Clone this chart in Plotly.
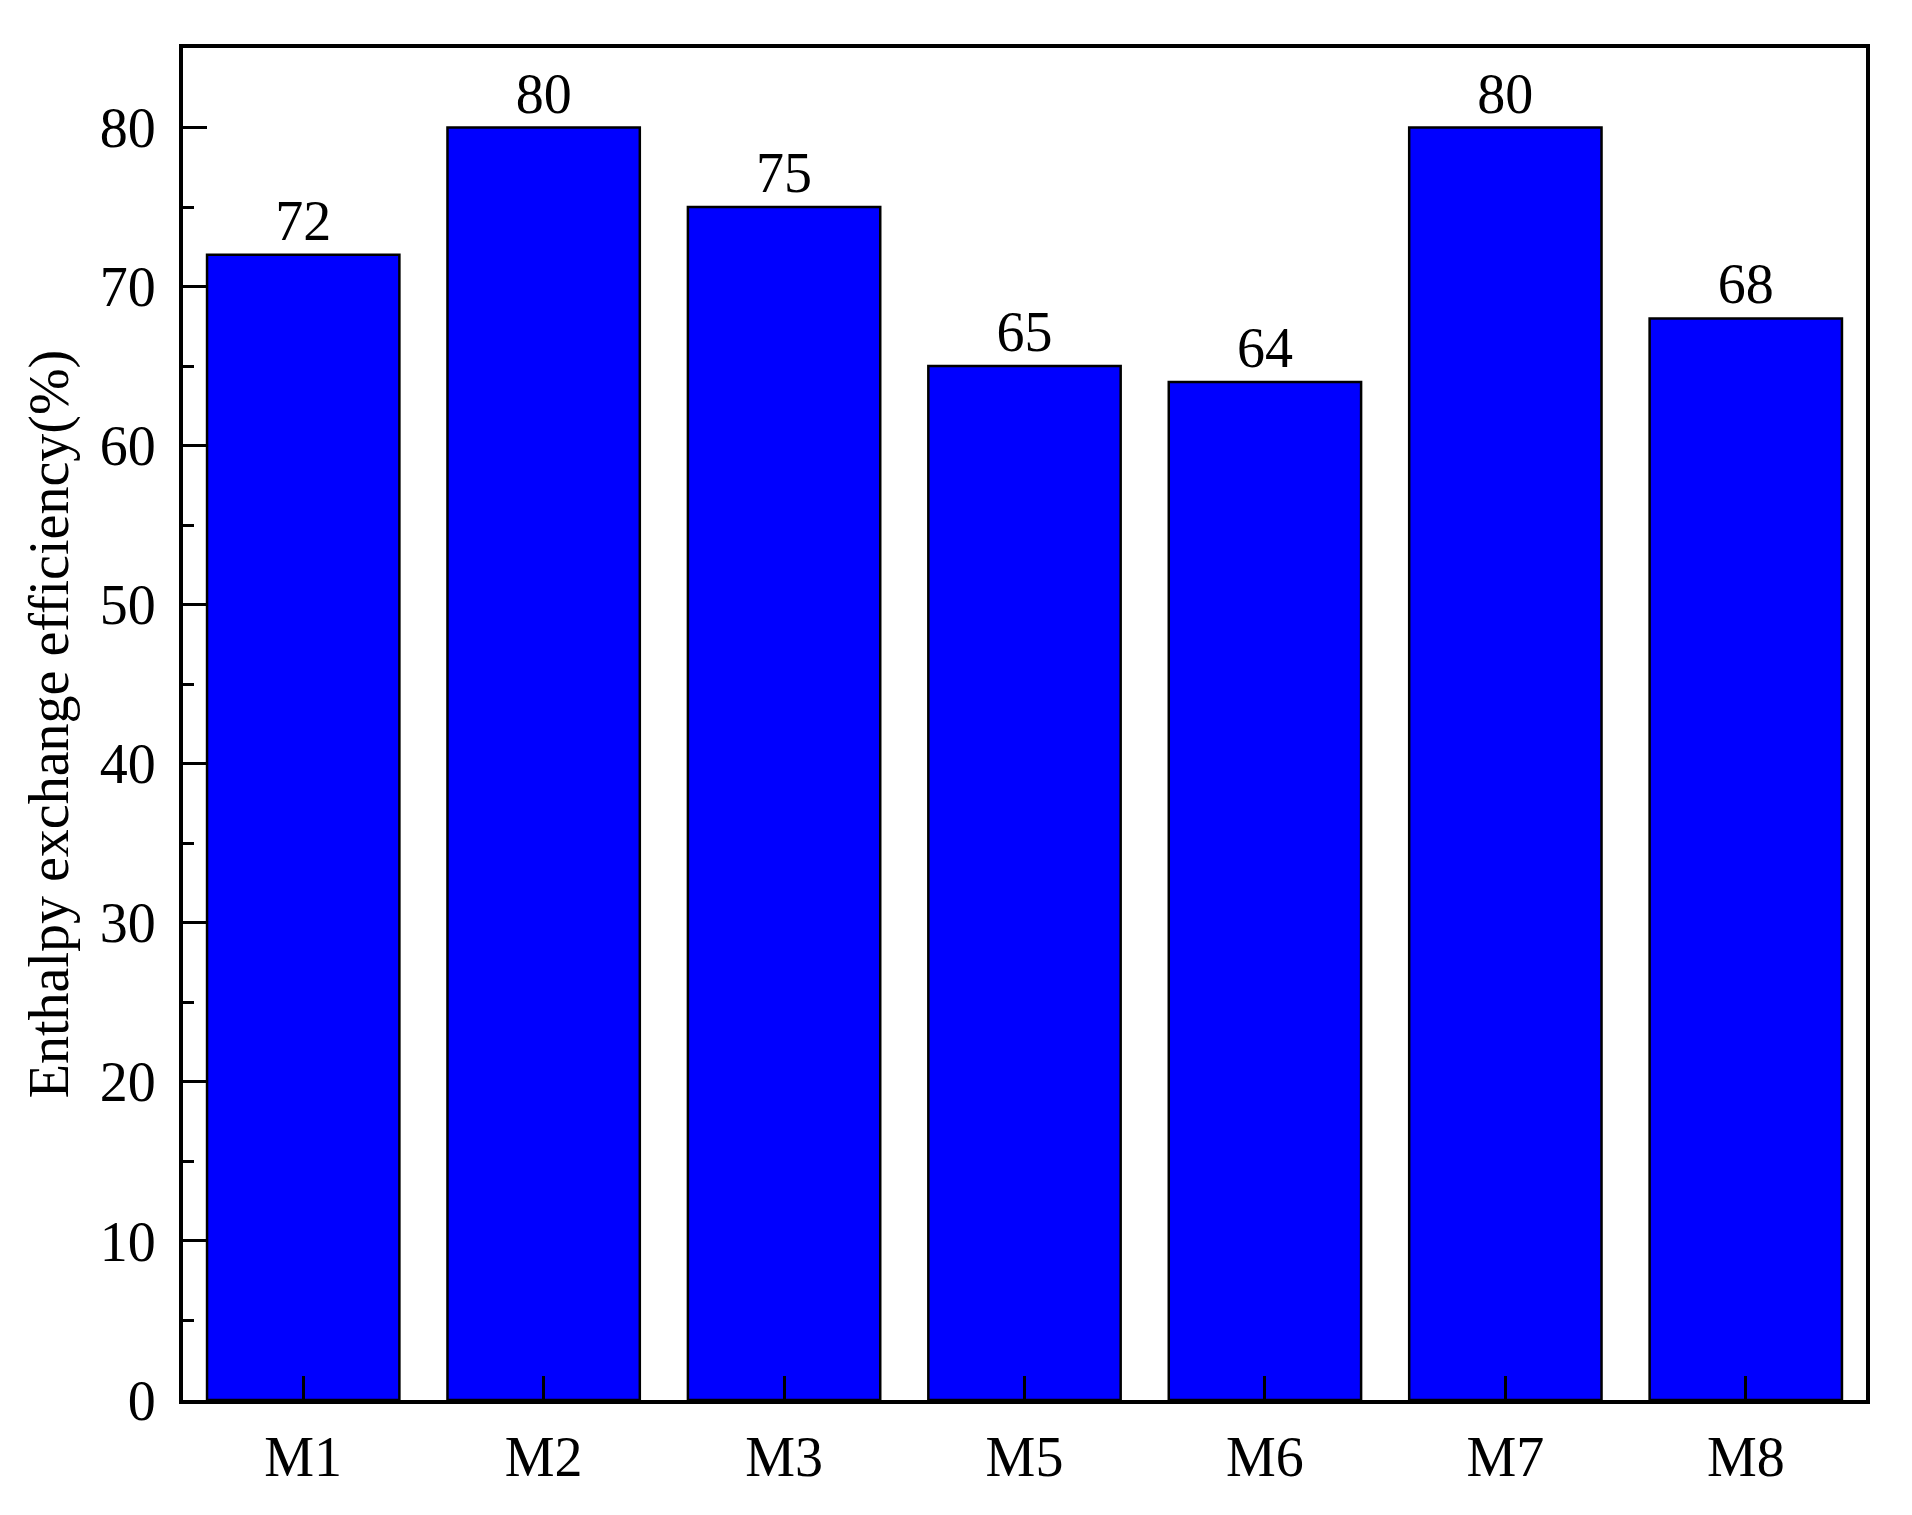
import plotly.graph_objects as go

categories = ["M1", "M2", "M3", "M5", "M6", "M7", "M8"]
values = [72, 80, 75, 65, 64, 80, 68]
y_ticks = [0, 10, 20, 30, 40, 50, 60, 70, 80]

FONT = "Liberation Serif, Times New Roman, serif"

fig = go.Figure()
fig.add_trace(go.Bar(
    x=categories,
    y=values,
    width=0.8,
    marker=dict(color="#0000FF", line=dict(color="black", width=2.5)),
    text=[str(v) for v in values],
    textposition="outside",
    textfont=dict(family=FONT, size=56, color="black"),
    cliponaxis=False,
))

fig.update_layout(
    width=1904,
    height=1507,
    margin=dict(l=175, r=46, t=40, b=115, autoexpand=False),
    paper_bgcolor="white",
    plot_bgcolor="white",
    font=dict(family=FONT, size=56, color="black"),
    showlegend=False,
    bargap=0.2,
)

fig.update_xaxes(
    type="category",
    range=[-0.5, 6.5],
    automargin=False,
    showline=True, linecolor="black", linewidth=4, mirror=True,
    ticks="inside", ticklen=24, tickwidth=3, tickcolor="black",
    ticklabelstandoff=5,
    showgrid=False, zeroline=False,
    tickfont=dict(family=FONT, size=56, color="black"),
)
fig.update_yaxes(
    range=[0, 85],
    automargin=False,
    tickvals=y_ticks,
    showline=True, linecolor="black", linewidth=4, mirror=True,
    ticks="inside", ticklen=24, tickwidth=3, tickcolor="black",
    ticklabelstandoff=12,
    minor=dict(ticks="inside", ticklen=11, tickwidth=3, tickcolor="black", dtick=5, showgrid=False),
    showgrid=False, zeroline=False,
    tickfont=dict(family=FONT, size=56, color="black"),
    title=dict(text="Enthalpy exchange efficiency(%)", font=dict(family=FONT, size=56, color="black"), standoff=14),
)

fig.write_html("out.html")
